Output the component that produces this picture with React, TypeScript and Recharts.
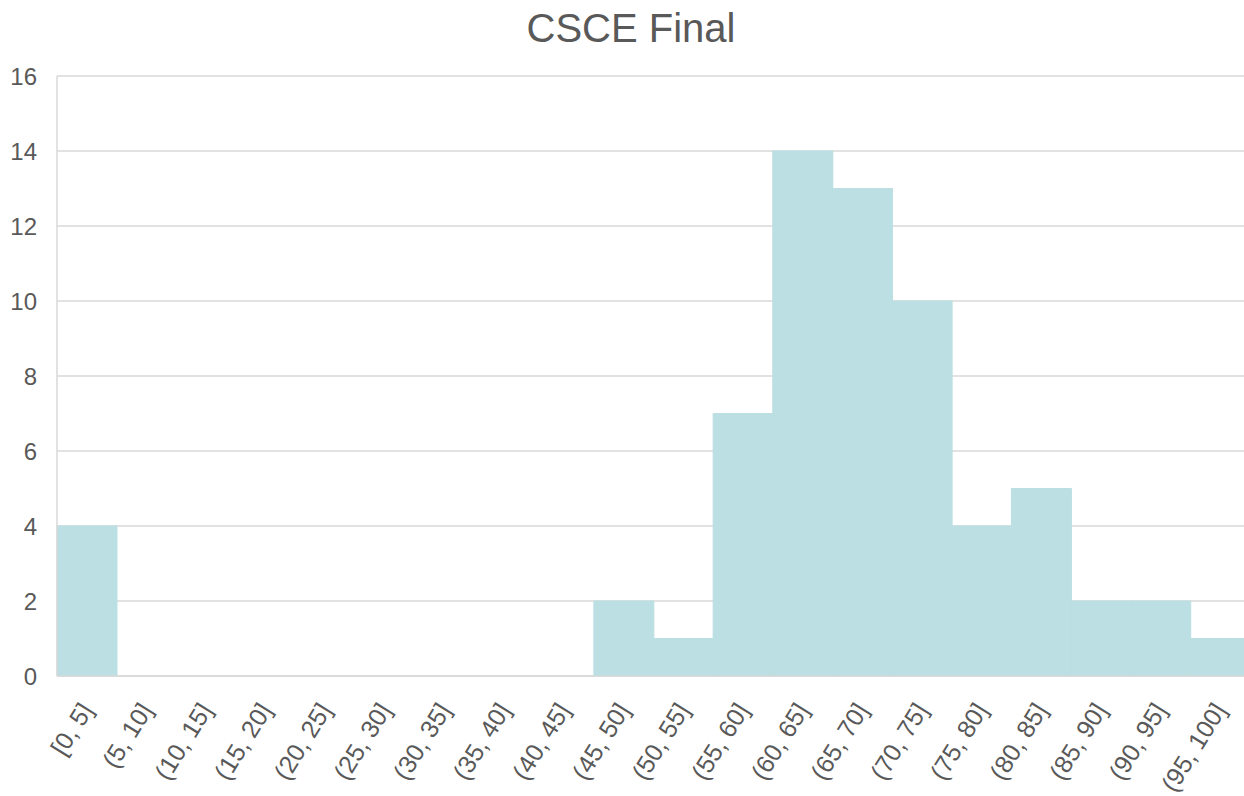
import React from "react";
import { BarChart, Bar, XAxis, YAxis, CartesianGrid } from "recharts";

const categories = [
  "[0, 5]", "(5, 10]", "(10, 15]", "(15, 20]", "(20, 25]", "(25, 30]", "(30, 35]",
  "(35, 40]", "(40, 45]", "(45, 50]", "(50, 55]", "(55, 60]", "(60, 65]", "(65, 70]",
  "(70, 75]", "(75, 80]", "(80, 85]", "(85, 90]", "(90, 95]", "(95, 100]",
];
const counts = [4, 0, 0, 0, 0, 0, 0, 0, 0, 2, 1, 7, 14, 13, 10, 4, 5, 2, 2, 1];
const yTicks = [0, 2, 4, 6, 8, 10, 12, 14, 16];
const title = "CSCE Final";

const data = categories.map((c, i) => ({ bin: c, count: counts[i] }));

const FONT = "'Liberation Sans', Arial, sans-serif";
const TEXT = "#595959";
const BAR = "#BBDFE2";

const XTick = (props: any) => {
  const { x, y, payload } = props;
  return (
    <g transform={`translate(${x + 7},${y + 32})`}>
      <text
        textAnchor="end"
        transform="rotate(-58)"
        fill={TEXT}
        fontSize={25}
        fontFamily={FONT}
      >
        {payload.value}
      </text>
    </g>
  );
};

export default function App() {
  return (
    <div style={{ position: "absolute", left: 0, top: 0, width: 1244, height: 796, background: "#fff", overflow: "hidden" }}>
      <BarChart
        width={1250}
        height={796}
        data={data}
        margin={{ top: 76, right: 0, left: 0, bottom: 0 }}
        barCategoryGap={0}
        barGap={0}
      >
        <text x={631} y={42} textAnchor="middle" fontSize={40} fill={TEXT} fontFamily={FONT}>
          {title}
        </text>
        <CartesianGrid vertical={false} stroke="#D9D9D9" strokeWidth={1.5} />
        <XAxis
          dataKey="bin"
          interval={0}
          height={120}
          tick={<XTick />}
          tickLine={false}
          tickSize={0}
          axisLine={{ stroke: "#D9D9D9", strokeWidth: 1.5 }}
        />
        <YAxis
          width={57}
          domain={[0, 16]}
          ticks={yTicks}
          interval={0}
          tickLine={false}
          tickSize={0}
          tickMargin={20}
          axisLine={{ stroke: "#D9D9D9", strokeWidth: 1.5 }}
          tick={{ fill: TEXT, fontSize: 24, fontFamily: FONT }}
        />
        <Bar dataKey="count" fill={BAR} stroke={BAR} strokeWidth={1} isAnimationActive={false} />
      </BarChart>
    </div>
  );
}
